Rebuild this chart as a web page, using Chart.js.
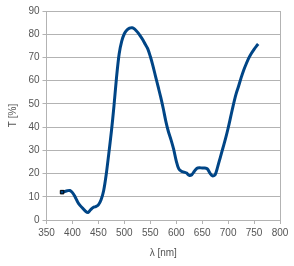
<!DOCTYPE html>
<html lang="en">
<head>
    <meta charset="UTF-8">
    <title>Transmission spectrum</title>
    <script src="https://cdn.jsdelivr.net/npm/chart.js@4.4.0/dist/chart.umd.min.js"></script>
    <style>
        body { margin: 0; background: #fff; }
        #wrap { width: 294px; height: 266px; }
    </style>
</head>
<body>
    <div id="wrap"><canvas id="myChart" width="294" height="266"></canvas></div>
    <script>
        const wavelengths = [380, 385, 390, 395, 400, 405, 410, 415, 420, 425, 430, 435, 440, 445, 450, 455,
            460, 465, 470, 475, 480, 485, 490, 495, 500, 505, 510, 515, 520, 525, 530, 535, 540, 545, 550,
            555, 560, 565, 570, 575, 580, 585, 590, 595, 600, 605, 610, 615, 620, 625, 630, 635, 640, 645,
            650, 655, 660, 665, 670, 675, 680, 685, 690, 695, 700, 705, 710, 715, 720, 725, 730, 735, 740,
            745, 750, 755, 758];
        const transmittance = [12.0, 12.3, 12.6, 12.7, 11.8, 10.0, 7.8, 6.2, 5.0, 3.8, 3.2, 4.4, 5.4, 5.8, 6.5, 8.6,
            12.5, 19.5, 28.5, 38, 49, 61.5, 71.5, 77, 80.2, 81.8, 82.6, 82.8, 82.2, 81, 79.5, 77.8, 75.8, 73.8, 70.5,
            66.5, 62, 57.5, 53, 48, 42.5, 38, 34.5, 30.5, 25.5, 22, 21, 20.6, 20.2, 19.2, 19.5, 21, 22.3, 22.5,
            22.4, 22.4, 22, 20.2, 19, 19.5, 23, 27, 31, 35, 39.5, 44.5, 49.5, 54, 57.5, 61.2, 64.5, 67.3, 69.8,
            71.8, 73.5, 75, 75.8];
        const xTicks = [350, 400, 450, 500, 550, 600, 650, 700, 750, 800];
        const yTicks = [0, 10, 20, 30, 40, 50, 60, 70, 80, 90];

        const gridGrey = '#b3b3b3';
        const textGrey = '#555555';
        const font = { family: 'Liberation Sans', size: 10 };

        const points = wavelengths.map((w, i) => ({ x: w, y: transmittance[i] }));

        const ctx = document.getElementById('myChart').getContext('2d');
        new Chart(ctx, {
            type: 'line',
            data: {
                datasets: [{
                    data: points,
                    borderColor: '#004586',
                    borderWidth: 3,
                    backgroundColor: '#004586',
                    pointStyle: 'rect',
                    pointRadius: points.map((p, i) => i === 0 ? 2.5 : 0),
                    pointBorderColor: '#000000',
                    pointBorderWidth: 1,
                    tension: 0.3,
                    fill: false
                }]
            },
            options: {
                responsive: false,
                animation: false,
                layout: { padding: { top: 11, right: 14, left: 3, bottom: 5 } },
                plugins: { legend: { display: false }, tooltip: { enabled: false } },
                scales: {
                    x: {
                        type: 'linear',
                        min: xTicks[0],
                        max: xTicks[xTicks.length - 1],
                        afterBuildTicks: s => { s.ticks = xTicks.map(v => ({ value: v })); },
                        afterFit: s => { s.height = 41; },
                        grid: {
                            color: c => (c.tick && c.tick.value === 800) ? gridGrey : 'rgba(0,0,0,0)',
                            tickColor: gridGrey,
                            tickLength: 4,
                            drawOnChartArea: true
                        },
                        border: { display: true, color: gridGrey },
                        ticks: { color: textGrey, font: font, padding: 3, maxRotation: 0 },
                        title: { display: true, text: 'λ [nm]', color: textGrey, font: font, padding: { top: 2, bottom: 2 } }
                    },
                    y: {
                        min: yTicks[0],
                        max: yTicks[yTicks.length - 1],
                        afterBuildTicks: s => { s.ticks = yTicks.map(v => ({ value: v })); },
                        afterFit: s => { s.width = 43.5; },
                        grid: { color: gridGrey, tickColor: gridGrey, tickLength: 4 },
                        border: { display: true, color: gridGrey },
                        ticks: { color: textGrey, font: font, padding: 3 },
                        title: { display: true, text: 'T [%]', color: textGrey, font: font, padding: { top: 4, bottom: 0 } }
                    }
                }
            }
        });
    </script>
</body>
</html>
